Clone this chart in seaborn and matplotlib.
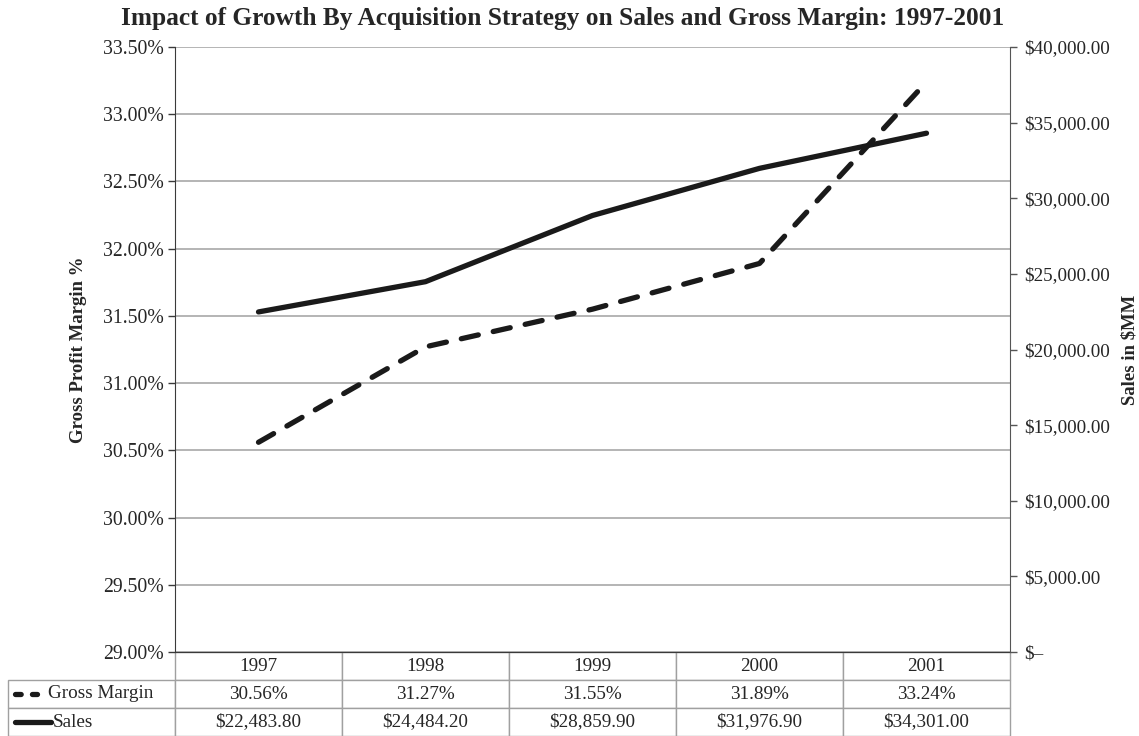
import pandas as pd
import matplotlib.pyplot as plt
import seaborn as sns
from matplotlib.lines import Line2D
from matplotlib.ticker import FuncFormatter, MultipleLocator

years = ['1997', '1998', '1999', '2000', '2001']
gross_margin = [30.56, 31.27, 31.55, 31.89, 33.24]
sales = [22483.80, 24484.20, 28859.90, 31976.90, 34301.00]

gm_labels = [f'{v:.2f}%' for v in gross_margin]
sales_labels = [f'${v:,.2f}' for v in sales]

df = pd.DataFrame({'year': years, 'gm': gross_margin, 'sales': sales})

sns.set_style('white')
plt.rcParams['font.family'] = ['Liberation Serif', 'DejaVu Serif']

fig = plt.figure(figsize=(11.39, 7.36), dpi=100)
ax = fig.add_axes([175 / 1139, 1 - 652 / 736, 835 / 1139, 605 / 736])
ax2 = ax.twinx()

sns.lineplot(data=df, x='year', y='gm', ax=ax, color='#1a1a1a', lw=3.8,
             dashes=False, linestyle=(0, (3.3, 2.9)), dash_capstyle='round',
             solid_capstyle='round')
sns.lineplot(data=df, x='year', y='sales', ax=ax2, color='#1a1a1a', lw=3.8,
             solid_capstyle='round')

ax.set_xlim(-0.5, 4.5)
ax.set_ylim(29.0, 33.5)
ax.yaxis.set_major_locator(MultipleLocator(0.5))
ax.yaxis.set_major_formatter(FuncFormatter(lambda v, p: f'{v:.2f}%'))
ax2.set_ylim(0, 40000)
ax2.yaxis.set_major_locator(MultipleLocator(5000))
ax2.yaxis.set_major_formatter(FuncFormatter(lambda v, p: '$–' if v == 0 else f'${v:,.2f}'))

ax.grid(True, axis='y', color='#a8a8a8', lw=1.2)
ax.set_xticks([])
ax2.set_xticks([])
ax.set_xlabel('')
ax2.set_xlabel('')

for a in (ax, ax2):
    a.spines['top'].set_visible(False)
ax.spines['left'].set_color('#3a3a3a')
ax.spines['bottom'].set_color('#3a3a3a')
ax.spines['right'].set_visible(False)
ax2.spines['left'].set_visible(False)
ax2.spines['bottom'].set_visible(False)
ax2.spines['right'].set_color('#555555')

ax.tick_params(axis='y', which='major', direction='out', length=5, width=1,
               color='#3a3a3a', labelsize=14.2, left=True, pad=3)
ax2.tick_params(axis='y', which='major', direction='out', length=5, width=1,
                color='#555555', labelsize=13.8, right=True, pad=5)

ax.set_ylabel('Gross Profit Margin %', fontsize=13.5, fontweight='bold')
ax.yaxis.set_label_coords(-0.105, 0.5)
ax2.set_ylabel('Sales in $MM', fontsize=13.5, fontweight='bold', rotation=90)
ax2.yaxis.set_label_coords(1.133, 0.5)

fig.suptitle('Impact of Growth By Acquisition Strategy on Sales and Gross Margin: 1997-2001',
             x=0.494, y=0.975, fontsize=18.3, fontweight='bold', va='center')

# tabla de datos bajo el grafico
cell_text = [[''] + years, [''] + gm_labels, [''] + sales_labels]
tbl = ax.table(cellText=cell_text, cellLoc='center', bbox=[-0.2, -0.139, 1.2, 0.139])
tbl.auto_set_font_size(False)
tbl.set_fontsize(13.8)
for (r, c), cell in tbl.get_celld().items():
    cell.set_edgecolor('#a0a0a0')
    cell.set_linewidth(1.0)
    if r == 0 and c == 0:
        cell.visible_edges = ''

row_y = [-0.069, -0.116]
ax.add_line(Line2D([-0.192, -0.165], [row_y[0]] * 2, transform=ax.transAxes, clip_on=False,
                   color='#1a1a1a', lw=3.8, linestyle=(0, (1.08, 2.13)), dash_capstyle='round'))
ax.add_line(Line2D([-0.192, -0.149], [row_y[1]] * 2, transform=ax.transAxes, clip_on=False,
                   color='#1a1a1a', lw=3.8, solid_capstyle='round'))
ax.text(-0.152, row_y[0], 'Gross Margin', transform=ax.transAxes, fontsize=13.8, va='center', ha='left')
ax.text(-0.146, row_y[1], 'Sales', transform=ax.transAxes, fontsize=13.8, va='center', ha='left')

plt.savefig('out.png', dpi=100)
